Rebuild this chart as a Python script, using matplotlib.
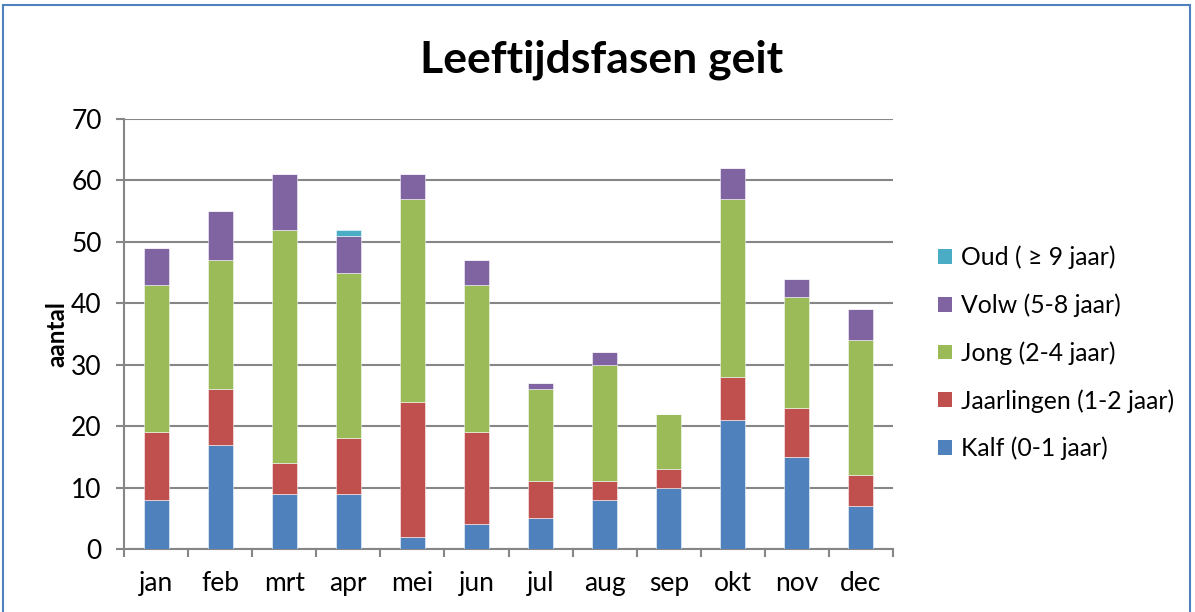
import matplotlib
matplotlib.use("Agg")
import matplotlib.pyplot as plt
from matplotlib.patches import Rectangle, Patch
import numpy as np

months = ["jan", "feb", "mrt", "apr", "mei", "jun", "jul", "aug", "sep", "okt", "nov", "dec"]
kalf = [8, 17, 9, 9, 2, 4, 5, 8, 10, 21, 15, 7]
jaarlingen = [11, 9, 5, 9, 22, 15, 6, 3, 3, 7, 8, 5]
jong = [24, 21, 38, 27, 33, 24, 15, 19, 9, 29, 18, 22]
volw = [6, 8, 9, 6, 4, 4, 1, 2, 0, 5, 3, 5]
oud = [0, 0, 0, 1, 0, 0, 0, 0, 0, 0, 0, 0]

series_names = ["Kalf (0-1 jaar)", "Jaarlingen (1-2 jaar)", "Jong (2-4 jaar)",
                "Volw (5-8 jaar)", "Oud ( \u2265 9 jaar)"]
series_vals = [kalf, jaarlingen, jong, volw, oud]
colors = ["#4F81BD", "#C0504D", "#9BBB59", "#8064A2", "#4BACC6"]

plt.rcParams['font.family'] = ['Lato', 'DejaVu Sans']

fig = plt.figure(figsize=(11.95, 6.12), dpi=100)
ax = fig.add_axes([124/1195, 1-549/612, (893-124)/1195, (549-119)/612])

x = np.arange(len(months))
bottom = np.zeros(len(months))
handles = []
for name, vals, c in zip(series_names, series_vals, colors):
    v = np.array(vals, dtype=float)
    ax.bar(x, v, bottom=bottom, width=0.39, color=c, edgecolor=(1, 1, 1, 0.6),
           linewidth=0.6, zorder=3)
    bottom += v
    handles.append(Patch(facecolor=c, edgecolor='none', label=name))

ax.set_xlim(-0.5, len(months) - 0.5)
ax.set_ylim(0, 70)
ax.set_yticks(range(0, 71, 10))
ax.set_xticks(x)
ax.set_xticklabels(months, fontsize=19)
ax.set_xticks(np.arange(-0.5, len(months), 1.0), minor=True)
ax.tick_params(axis='x', which='major', length=0, pad=16)
ax.tick_params(axis='x', which='minor', length=6, width=1.5, color='#868686', direction='out')
ax.tick_params(axis='y', length=6, width=1.5, color='#868686', labelsize=19, pad=10)
ax.grid(axis='y', color='#868686', linewidth=1.5, zorder=0)
ax.set_axisbelow(True)
for s in ['top', 'right']:
    ax.spines[s].set_visible(False)
for s in ['left', 'bottom']:
    ax.spines[s].set_color('#868686')
    ax.spines[s].set_linewidth(1.5)

ax.set_ylabel("aantal", fontsize=17.5, fontweight='bold', labelpad=2)

fig.text(602/1195, 1-60/612, "Leeftijdsfasen geit", fontsize=32, fontweight='bold',
         ha='center', va='center')

leg = fig.legend(handles=handles[::-1], loc='center left',
                 bbox_to_anchor=(926/1195, 1-353/612), frameon=False,
                 fontsize=17.8, handlelength=0.55, handleheight=0.55,
                 labelspacing=0.98, handletextpad=0.35, borderpad=0)

fig.patches.append(Rectangle((3/1195, -0.02), (1190-3)/1195, 1.02 - 5/612 + 0.0,
                             transform=fig.transFigure, fill=False,
                             edgecolor='#4F81BD', linewidth=1.5))

fig.savefig("out.png", dpi=100)
